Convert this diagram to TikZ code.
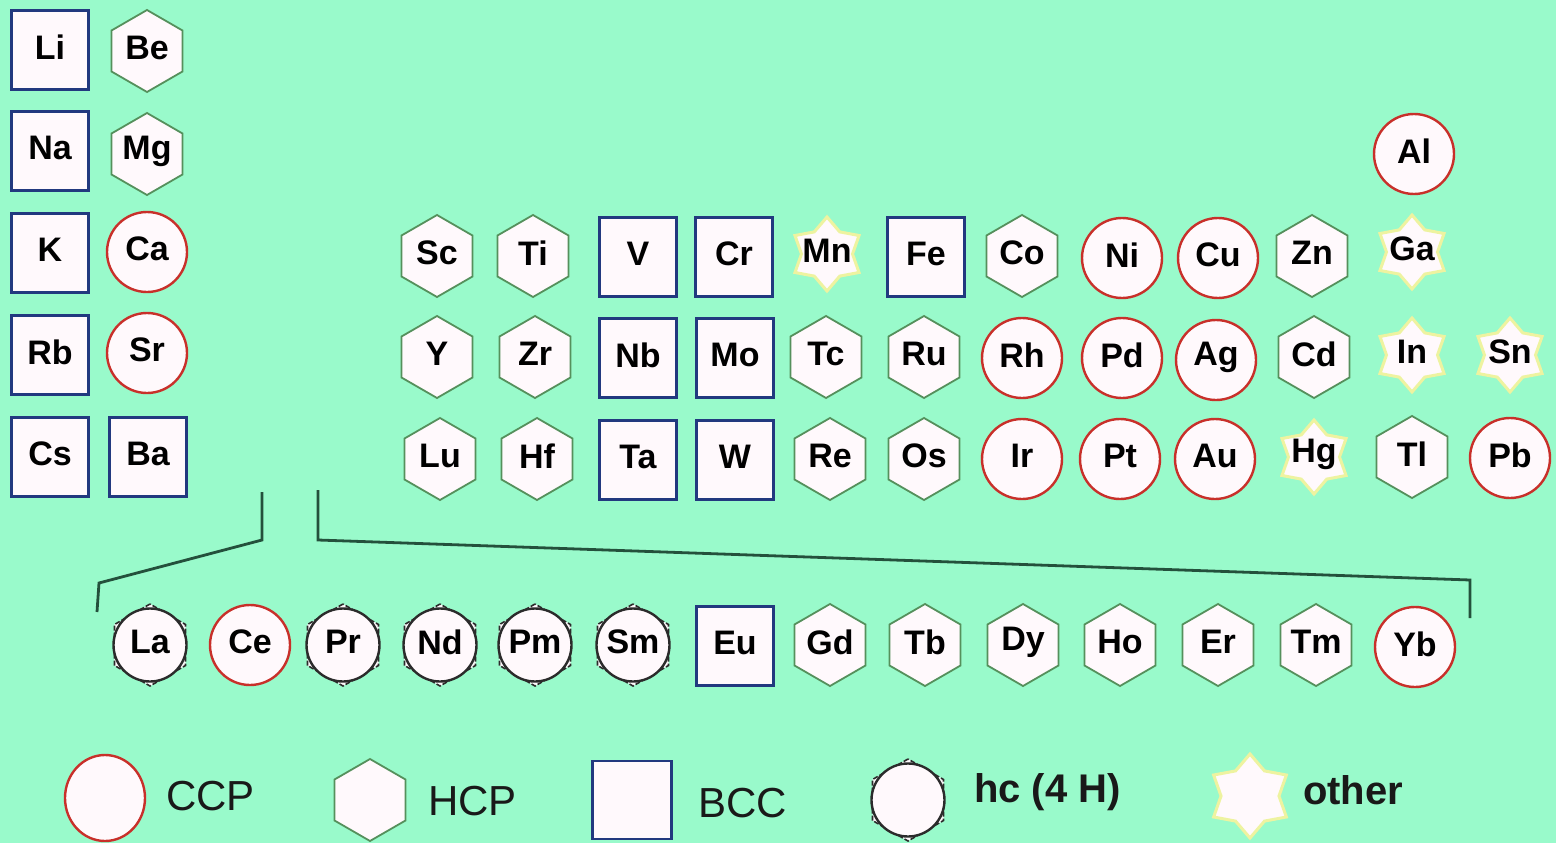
\documentclass[tikz,border=0pt]{standalone}
\usepackage{fontspec}
\setmainfont{Liberation Sans}
\usetikzlibrary{shapes.geometric}
\definecolor{bg}{HTML}{99FACB}
\definecolor{cellfill}{HTML}{FFF9FC}
\definecolor{bccc}{HTML}{22397F}
\definecolor{ccpc}{HTML}{C8302A}
\definecolor{hcpc}{HTML}{55905C}
\definecolor{hcfc}{HTML}{2B2B2B}
\definecolor{othc}{HTML}{EEF3A0}
\definecolor{brc}{HTML}{24503C}
\begin{document}
\begin{tikzpicture}[x=1pt,y=-1pt,
  bcc/.style={rectangle, draw=bccc, fill=cellfill, line width=2.6pt, minimum width=77pt, minimum height=79pt, inner sep=0pt},
  ccp/.style={circle, draw=ccpc, fill=cellfill, line width=2.4pt, minimum size=80pt, inner sep=0pt},
  hcp/.style={regular polygon, regular polygon sides=6, shape border rotate=30, draw=hcpc, fill=cellfill, line width=1.8pt, minimum size=82pt, inner sep=0pt},
  hcf/.style={regular polygon, regular polygon sides=6, shape border rotate=30, draw=hcfc, fill=cellfill, line width=1.6pt, dash pattern=on 5pt off 2pt, minimum size=82pt, inner sep=0pt,
     label={[circle, draw=hcfc, fill=cellfill, line width=2.4pt, minimum size=73pt, inner sep=0pt]center:{}}},
  oth/.style={star, star points=6, star point ratio=1.45, draw=othc, fill=cellfill, line width=3pt, minimum size=74pt, inner sep=0pt},
  lbl/.style={font=\bfseries\fontsize{34}{38}\selectfont, inner sep=0pt, text=black},
  leg/.style={font=\fontsize{42}{46}\selectfont, inner sep=0pt, anchor=west, text=black!90},
  legb/.style={font=\bfseries\fontsize{40}{44}\selectfont, inner sep=0pt, anchor=west, text=black!90},
  bracket/.style={draw=brc, line width=2.8pt, line join=miter}
]
\fill[bg] (0,0) rectangle (1556,843);
\useasboundingbox (0,0) rectangle (1556,843);

% main table
\foreach \n/\x/\y/\t in {
  Li/50/50/bcc, Na/50/151/bcc, K/50/253/bcc, Rb/50/355/bcc, Cs/50/457/bcc,
  Be/147/51/hcp, Mg/147/154/hcp, Ca/147/252/ccp, Sr/147/353/ccp, Ba/148/457/bcc,
  Al/1414/154/ccp,
  Sc/437/256/hcp, Ti/533/256/hcp, V/638/257/bcc, Cr/734/257/bcc, Mn/827/254/oth,
  Fe/926/257/bcc, Co/1022/256/hcp, Ni/1122/258/ccp, Cu/1218/258/ccp, Zn/1312/256/hcp, Ga/1412/252/oth,
  Y/437/357/hcp, Zr/535/357/hcp, Nb/638/358/bcc, Mo/735/358/bcc, Tc/826/357/hcp,
  Ru/924/357/hcp, Rh/1022/358/ccp, Pd/1122/358/ccp, Ag/1216/360/ccp, Cd/1314/357/hcp, In/1412/355/oth, Sn/1510/355/oth,
  Lu/440/459/hcp, Hf/537/459/hcp, Ta/638/460/bcc, W/735/460/bcc, Re/830/459/hcp,
  Os/924/459/hcp, Ir/1022/459/ccp, Pt/1120/459/ccp, Au/1215/459/ccp, Hg/1314/457/oth, Tl/1412/457/hcp, Pb/1510/458/ccp,
  La/150/645/hcf, Ce/250/645/ccp, Pr/343/645/hcf, Nd/440/645/hcf, Pm/535/645/hcf, Sm/633/645/hcf,
  Eu/735/646/bcc, Gd/830/645/hcp, Tb/925/645/hcp, Dy/1023/645/hcp, Ho/1120/645/hcp, Er/1218/645/hcp,
  Tm/1316/645/hcp, Yb/1415/647/ccp}
{
  \node[\t] (s-\n) at (\x,\y) {};
  \node[lbl] (t-\n) at (\x,\y-3) {\n};
}

% bracket to lanthanides
\coordinate (b1) at (262,492);
\coordinate (b2) at (262,540);
\coordinate (b3) at (99,583);
\coordinate (b4) at (97,612);
\coordinate (c1) at (318,490);
\coordinate (c2) at (318,540);
\coordinate (c3) at (1470,580);
\coordinate (c4) at (1470,618);
\draw[bracket] (b1) -- (b2) -- (b3) -- (b4);
\draw[bracket] (c1) -- (c2) -- (c3) -- (c4);

% legend
\node[ccp, ellipse, minimum width=80pt, minimum height=86pt] (l-ccp) at (105,798) {};
\node[leg] (lt-ccp) at (166,796) {CCP};
\node[hcp] (l-hcp) at (370,800) {};
\node[leg] (lt-hcp) at (428,801) {HCP};
\node[bcc, minimum width=79pt, minimum height=78pt] (l-bcc) at (632,800) {};
\node[leg] (lt-bcc) at (698,803) {BCC};
\node[hcf] (l-hcf) at (908,800) {};
\node[legb] (lt-hcf) at (974,792) {hc (4 H)};
\node[oth, minimum size=84pt] (l-oth) at (1250,796) {};
\node[legb] (lt-oth) at (1303,790) {other};
\end{tikzpicture}
\end{document}
